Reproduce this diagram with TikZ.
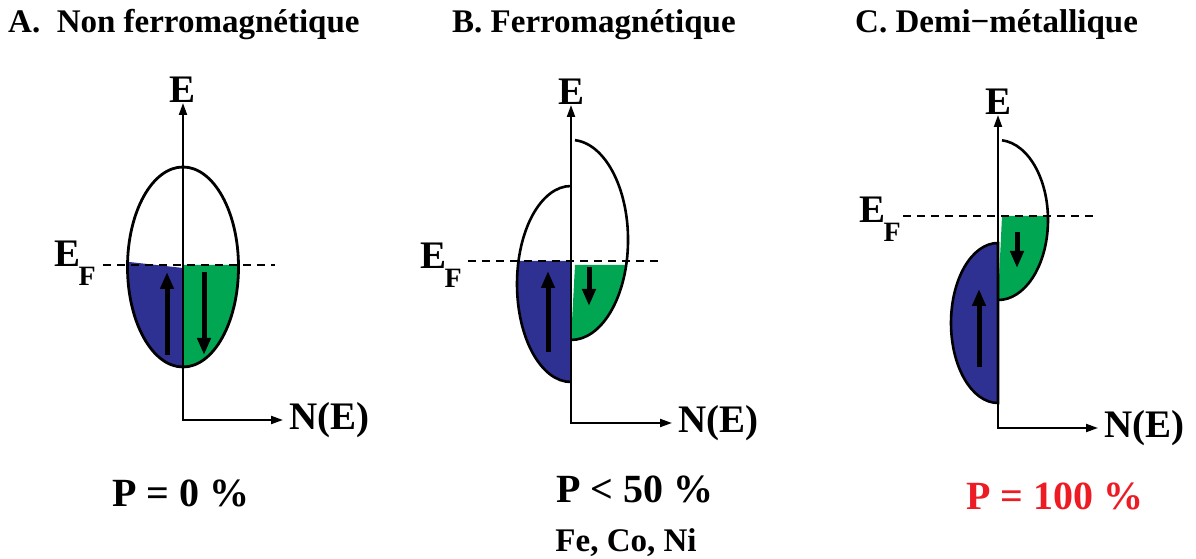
\documentclass[tikz,border=0pt]{standalone}
\usepackage{fontspec}
\setmainfont{Liberation Serif}
\usetikzlibrary{arrows.meta,positioning,calc}
\definecolor{upblue}{RGB}{46,49,146}
\definecolor{downgreen}{RGB}{0,166,81}
\definecolor{polred}{RGB}{237,28,36}
\newcommand{\EFlabel}{E\kern-2pt\raisebox{-19pt}{\fontsize{28}{28}\selectfont F}}

\begin{document}
\begin{tikzpicture}[x=1pt,y=1pt,
    axis/.style={line width=2pt,{Triangle[length=12pt,width=8pt]}-{Triangle[length=12pt,width=8pt]}},
    band/.style={line width=2.6pt},
    fermi/.style={line width=1.8pt,dash pattern=on 8pt off 6pt},
    spin/.style={line width=5pt,-{Triangle[length=17pt,width=13pt]}},
    title/.style={font=\fontsize{33}{38}\selectfont\bfseries,anchor=base west,inner sep=0pt},
    axlabel/.style={font=\fontsize{39}{42}\selectfont\bfseries,inner sep=0pt},
    eflabel/.style={font=\fontsize{39}{42}\selectfont\bfseries,inner sep=0pt,anchor=base east},
    pol/.style={font=\fontsize{40}{44}\selectfont\bfseries,anchor=base,inner sep=0pt}]
    \useasboundingbox (0,0) rectangle (1196,559);

    % A. non ferromagnetique
    \coordinate (eA) at (183,456);
    \coordinate (nA) at (283,139);
    \coordinate (fA1) at (103,294);
    \coordinate (fA2) at (275,294);
    \fill[upblue] (127.6,297.2) arc[start angle=177.1,end angle=270,x radius=55.5pt,y radius=100pt] -- (183,291) -- cycle;
    \fill[downgreen] (183,294) -- (183,192) arc[start angle=-90,end angle=1.15,x radius=55.5pt,y radius=100pt] -- cycle;
    \draw[band,line width=2.8pt] (183,292) ellipse[x radius=55.5pt,y radius=100pt];
    \draw[axis] (eA) |- (nA);
    \draw[fermi] (fA1) -- (fA2);
    \draw[spin] (167,204) -- (167,287);
    \draw[spin] (204,287) -- (204,204);
    \node[axlabel,above=0pt of eA] (lEA) {E};
    \node[axlabel,right=6pt of nA] (lNA) {N(E)};
    \node[eflabel] (lFA) at ([xshift=-7pt,yshift=-2pt]fA1) {\EFlabel};

    % B. ferromagnetique
    \coordinate (eB) at (571,454);
    \coordinate (nB) at (672,136);
    \coordinate (fB1) at (468,298);
    \coordinate (fB2) at (660,298);
    \fill[upblue] (571,298) -- (518.5,298) arc[start angle=166.4,end angle=270,x radius=54pt,y radius=98pt] -- cycle;
    \fill[downgreen] (575,294) -- (626.2,294) arc[start angle=-14.48,end angle=-90,x radius=57pt,y radius=100pt] -- cycle;
    \draw[band] (575,418.8) arc[start angle=86,end angle=-90,x radius=57pt,y radius=100pt];
    \draw[band] (571,373) arc[start angle=90,end angle=270,x radius=54pt,y radius=98pt];
    \draw[axis] (eB) |- (nB);
    \draw[fermi] (fB1) -- (fB2);
    \draw[spin] (548,207) -- (548,288);
    \draw[spin] (589,292) -- (589,253);
    \node[axlabel,above=0pt of eB] (lEB) {E};
    \node[axlabel,right=6pt of nB] (lNB) {N(E)};
    \node[eflabel] (lFB) at ([xshift=-6pt,yshift=-8pt]fB1) {\EFlabel};

    % C. demi-metallique
    \coordinate (eC) at (998,444);
    \coordinate (nC) at (1098,131);
    \coordinate (fC1) at (903,343);
    \coordinate (fC2) at (1095,343);
    \fill[downgreen] (1002,343) -- (1047.9,343) arc[start angle=2.87,end angle=-90,x radius=50pt,y radius=80pt] -- cycle;
    \draw[band] (1002,418.7) arc[start angle=85.4,end angle=-90,x radius=50pt,y radius=80pt];
    \filldraw[band,fill=upblue] (998,316) arc[start angle=90,end angle=270,x radius=47pt,y radius=80pt] -- cycle;
    \draw[axis] (eC) |- (nC);
    \draw[fermi] (fC1) -- (fC2);
    \draw[spin] (979,192) -- (979,270);
    \draw[spin] (1017,327) -- (1017,291);
    \node[axlabel,above=0pt of eC] (lEC) {E};
    \node[axlabel,right=6pt of nC] (lNC) {N(E)};
    \node[eflabel] (lFC) at ([xshift=-2pt,yshift=-7pt]fC1) {\EFlabel};

    % titres et polarisations
    \node[title] (tA) at (8,526) {A.\ \ Non ferromagnétique};
    \node[title] (tB) at (452,526) {B. Ferromagnétique};
    \node[title] (tC) at (855,526) {C. Demi−métallique};
    \node[pol] (pA) at (181,52) {P = 0 \%};
    \node[pol] (pB) at (635,56) {P < 50 \%};
    \node[pol,font=\fontsize{33}{36}\selectfont\bfseries] (metals) at (626,7) {Fe, Co, Ni};
    \node[pol,text=polred] (pC) at (1055,49) {P = 100 \%};
\end{tikzpicture}
\end{document}
